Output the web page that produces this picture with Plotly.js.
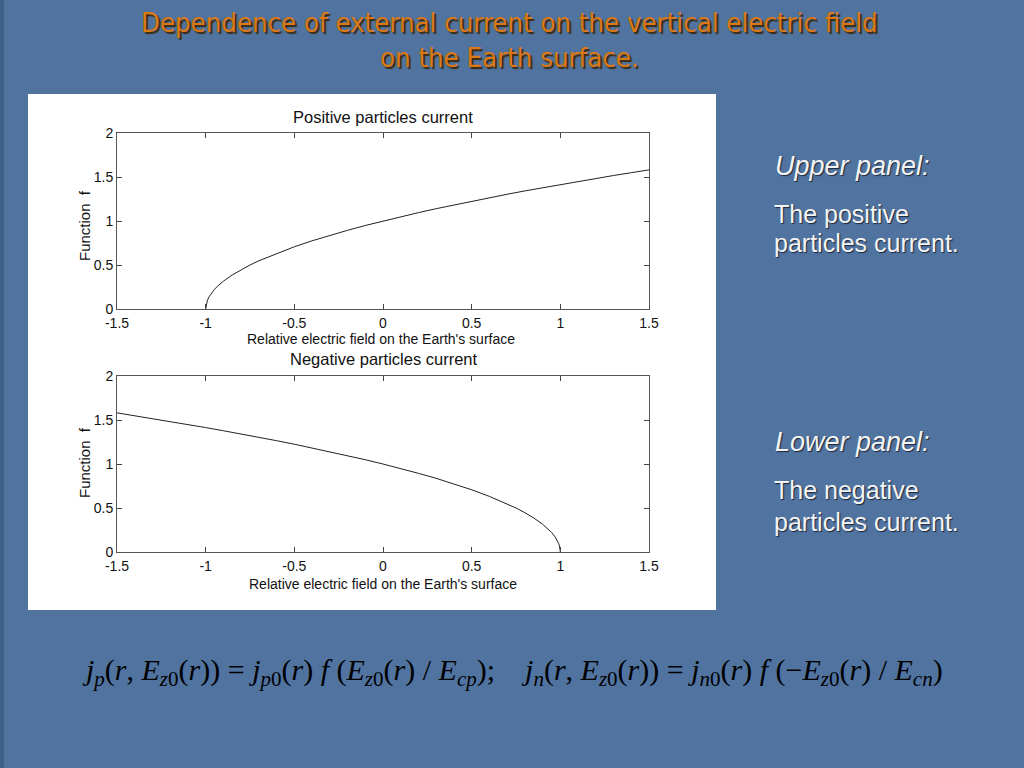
<!DOCTYPE html>
<html>
<head>
<meta charset="utf-8">
<script src="https://cdn.plot.ly/plotly-3.0.1.min.js"></script>
<style>
html,body{margin:0;padding:0;background:#5073a0;}
#chart{width:1024px;height:768px;}
</style>
</head>
<body>
<div id="chart"></div>
<script>
// Values
const posX = [-1, -0.995, -0.99, -0.98, -0.97, -0.95, -0.93, -0.9, -0.85, -0.8, -0.75, -0.7, -0.6, -0.5, -0.4, -0.3, -0.2, -0.1, 0, 0.1, 0.2, 0.3, 0.4, 0.5, 0.6, 0.7, 0.8, 0.9, 1.0, 1.1, 1.2, 1.3, 1.4, 1.5];
const posF = [0, 0.071, 0.100, 0.141, 0.173, 0.224, 0.265, 0.316, 0.387, 0.447, 0.500, 0.548, 0.632, 0.707, 0.775, 0.837, 0.894, 0.949, 1.000, 1.049, 1.095, 1.140, 1.183, 1.225, 1.265, 1.304, 1.342, 1.378, 1.414, 1.449, 1.483, 1.517, 1.549, 1.581];
const negX = [-1.5, -1.4, -1.3, -1.2, -1.1, -1.0, -0.9, -0.8, -0.7, -0.6, -0.5, -0.4, -0.3, -0.2, -0.1, 0, 0.1, 0.2, 0.3, 0.4, 0.5, 0.6, 0.7, 0.75, 0.8, 0.85, 0.9, 0.93, 0.95, 0.97, 0.98, 0.99, 0.995, 1];
const negF = [1.581, 1.549, 1.517, 1.483, 1.449, 1.414, 1.378, 1.342, 1.304, 1.265, 1.225, 1.183, 1.140, 1.095, 1.049, 1.000, 0.949, 0.894, 0.837, 0.775, 0.707, 0.632, 0.548, 0.500, 0.447, 0.387, 0.316, 0.265, 0.224, 0.173, 0.141, 0.100, 0.071, 0];
const xTicks = [-1.5, -1, -0.5, 0, 0.5, 1, 1.5];
const xTickText = ["-1.5", "-1", "-0.5", "0", "0.5", "1", "1.5"];
const yTicks = [0, 0.5, 1, 1.5, 2];
const yTickText = ["0", "0.5", "1", "1.5", "2"];
const panelTitles = ["Positive particles current", "Negative particles current"];
const xLabel = "Relative electric field on the Earth's surface";
const yLabel = "Function  f";

const W = 1024, H = 768;
const px = v => v / W, py = v => 1 - v / H;

const axisFont = {family: "Liberation Sans, Arial, sans-serif", size: 14, color: "#111"};
function xa(anchor) {
  return {
    domain: [px(117), px(649)], anchor: anchor, range: [-1.5, 1.5],
    tickvals: xTicks, ticktext: xTickText, ticks: "inside", ticklen: 5, tickcolor: "#444",
    showline: true, linecolor: "#555", linewidth: 1, mirror: "ticks", showgrid: false, zeroline: false,
    tickfont: axisFont, fixedrange: true, ticklabelstandoff: 1
  };
}
function ya(anchor, d0, d1) {
  return {
    domain: [d0, d1], anchor: anchor, range: [0, 2],
    tickvals: yTicks, ticktext: yTickText, ticks: "inside", ticklen: 5, tickcolor: "#444",
    showline: true, linecolor: "#555", linewidth: 1, mirror: "ticks", showgrid: false, zeroline: false,
    tickfont: axisFont, fixedrange: true
  };
}

const data = [
  {x: posX, y: posF, type: "scatter", mode: "lines", line: {color: "#222", width: 1}, xaxis: "x", yaxis: "y", hoverinfo: "skip"},
  {x: negX, y: negF, type: "scatter", mode: "lines", line: {color: "#222", width: 1}, xaxis: "x2", yaxis: "y2", hoverinfo: "skip"}
];

const shadowDark = "1px 1px 1px rgba(20,30,50,0.9)";
const ann = [];
function txt(x, y, text, font, xanchor) {
  ann.push({xref: "paper", yref: "paper", x: px(x), y: py(y), text: text, showarrow: false,
    xanchor: xanchor || "center", yanchor: "middle", font: font});
}
const labFont = {family: "Liberation Sans, Arial, sans-serif", size: 14, color: "#111"};
txt(383, 117, panelTitles[0], {family: "Liberation Sans, Arial, sans-serif", size: 16.5, color: "#111"});
txt(383, 359, panelTitles[1], {family: "Liberation Sans, Arial, sans-serif", size: 16.5, color: "#111"});
txt(381, 339, xLabel, labFont);
txt(383, 584, xLabel, labFont);
ann.push({xref: "paper", yref: "paper", x: px(85), y: py(226), text: yLabel, textangle: -90, showarrow: false, xanchor: "center", yanchor: "middle", font: {family: "Liberation Sans, Arial, sans-serif", size: 15, color: "#111"}});
ann.push({xref: "paper", yref: "paper", x: px(84), y: py(463), text: yLabel, textangle: -90, showarrow: false, xanchor: "center", yanchor: "middle", font: {family: "Liberation Sans, Arial, sans-serif", size: 15, color: "#111"}});

const titleFont = {family: "DejaVu Sans Condensed, DejaVu Sans, sans-serif", size: 27.3, color: "#dc7814", shadow: "2px 2px 1px #3a2a10"};
txt(509, 23, "Dependence of external current on the vertical electric field", titleFont);
txt(509, 57, "on the Earth surface.", titleFont);

const sideItal = {family: "Liberation Sans, Arial, sans-serif", size: 27, color: "#f4f4f4", style: "italic", shadow: shadowDark};
const sideNorm = {family: "Liberation Sans, Arial, sans-serif", size: 25, color: "#f4f4f4", shadow: shadowDark};
txt(773, 166, "Upper panel:", sideItal, "left");
txt(772, 214, "The positive", sideNorm, "left");
txt(772, 243, "particles current.", sideNorm, "left");
txt(773, 442, "Lower panel:", sideItal, "left");
txt(772, 490, "The negative", sideNorm, "left");
txt(772, 522, "particles current.", sideNorm, "left");

const formula = "<i>j</i><sub><i>p</i></sub>(<i>r</i>, <i>E</i><sub><i>z</i>0</sub>(<i>r</i>)) = <i>j</i><sub><i>p</i>0</sub>(<i>r</i>) <i>f</i> (<i>E</i><sub><i>z</i>0</sub>(<i>r</i>) / <i>E</i><sub><i>cp</i></sub>);    " +
  "<i>j</i><sub><i>n</i></sub>(<i>r</i>, <i>E</i><sub><i>z</i>0</sub>(<i>r</i>)) = <i>j</i><sub><i>n</i>0</sub>(<i>r</i>) <i>f</i> (−<i>E</i><sub><i>z</i>0</sub>(<i>r</i>) / <i>E</i><sub><i>cn</i></sub>)";
txt(512, 672, formula, {family: "Liberation Serif, Times New Roman, serif", size: 30, color: "#000"});

const layout = {
  width: W, height: H,
  margin: {l: 0, r: 0, t: 0, b: 0},
  paper_bgcolor: "#5073a0", plot_bgcolor: "#ffffff",
  showlegend: false,
  xaxis: xa("y"), yaxis: ya("x", py(309), py(133)),
  xaxis2: xa("y2"), yaxis2: ya("x2", py(552), py(376)),
  shapes: [
    {type: "rect", xref: "paper", yref: "paper", x0: px(28), x1: px(716), y0: py(610), y1: py(94), fillcolor: "#ffffff", line: {width: 0}, layer: "below"},
    {type: "rect", xref: "paper", yref: "paper", x0: 0, x1: px(4), y0: 0, y1: 1, fillcolor: "#3f6088", line: {width: 0}, layer: "below"}
  ],
  annotations: ann
};

Plotly.newPlot("chart", data, layout, {displayModeBar: false, staticPlot: true});
</script>
</body>
</html>
